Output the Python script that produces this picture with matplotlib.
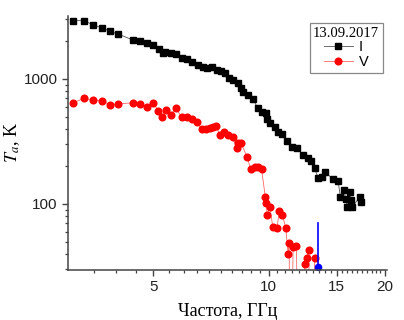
import numpy as np
import matplotlib
matplotlib.use('Agg')
import matplotlib.pyplot as plt
from matplotlib.ticker import FixedLocator, NullFormatter, FixedFormatter

# Данные: частота (ГГц) и яркостная температура (К)
freq_I = [3.10, 3.30, 3.48, 3.68, 3.86, 4.06, 4.43, 4.62, 4.81, 5.00,
          5.19, 5.30, 5.37, 5.56, 5.73, 5.94, 6.11, 6.30, 6.52, 6.73,
          6.89, 7.10, 7.32, 7.50, 7.69, 7.87, 8.08, 8.29, 8.44, 8.54,
          8.84, 9.10, 9.36, 9.57, 9.82, 9.88, 10.06, 10.36, 10.57, 10.85,
          11.17, 11.51, 11.84, 12.28, 12.65, 12.91, 13.17, 13.43, 13.71, 14.04,
          14.66, 15.14, 15.36, 15.70, 15.85, 16.00, 16.23, 16.40, 16.49, 17.23,
          17.41]
T_I = [2930, 2930, 2720, 2560, 2410, 2280, 2050, 2020, 1950, 1860,
       1730, 1605, 1650, 1605, 1577, 1480, 1438, 1375, 1294, 1254,
       1218, 1241, 1180, 1152, 1123, 1013, 982, 924, 851, 791,
       745, 688, 581, 547, 532, 476, 442, 415, 379, 361,
       319, 287, 279, 247, 232, 222, 193, 161, 165, 181,
       157, 153, 113, 129, 109, 94, 125, 108, 94, 114,
       104]

freq_V = [3.10, 3.30, 3.48, 3.68, 3.86, 4.06, 4.43, 4.62, 4.81, 5.00,
          5.16, 5.26, 5.40, 5.55, 5.73, 5.93, 6.11, 6.30, 6.49, 6.69,
          6.85, 7.03, 7.17, 7.28, 7.46, 7.64, 7.84, 8.05, 8.24, 8.32,
          8.44, 8.78, 8.96, 9.20, 9.38, 9.57, 9.79, 9.82, 9.90, 10.06,
          10.24, 10.49, 10.65, 10.84, 11.07, 11.22, 11.29, 11.40, 11.56, 11.80,
          11.95, 12.15, 12.40, 12.53, 12.70, 12.95, 13.15]
T_V = [645, 701, 679, 670, 619, 631, 645, 628, 600, 639,
       557, 499, 565, 515, 583, 494, 499, 476, 455, 396,
       396, 403, 411, 421, 356, 375, 356, 342, 279, 306,
       309, 239, 190, 199, 199, 190, 114, 102, 82, 95,
       65, 64, 87, 82, 64, 40, 49, 1, 45, 46,
       1, 1, 33, 37, 43, 1, 37]

freq_mark = [13.45, 13.45]
T_mark = [31.3, 70]

plt.rcParams['mathtext.fontset'] = 'stix'

fig = plt.figure(figsize=(4.04, 3.2), dpi=100)
ax = fig.add_axes([68 / 404, 50 / 320, 319 / 404, 254 / 320])

ax.plot(freq_I, T_I, color='#555555', lw=0.6, marker='s', ms=4.2,
        mfc='black', mec='black', label='I')
ax.plot(freq_V, T_V, color='#ff6666', lw=0.6, marker='o', ms=4.8,
        mfc='#ff0000', mec='#ff0000', label='V')
ax.plot(freq_mark, T_mark, color='#0000ff', lw=1.2)
ax.plot(freq_mark[:1], T_mark[:1], 'o', color='#0000ff', ms=4.5)

ax.set_xscale('log')
ax.set_yscale('log')
ax.set_xlim(3.0, 20.3)
ax.set_ylim(29.6, 3190)

# оси
xmaj = [5, 10, 15, 20]
ax.xaxis.set_major_locator(FixedLocator(xmaj))
ax.xaxis.set_major_formatter(FixedFormatter([str(v) for v in xmaj]))
xmin = [v for v in np.arange(3.5, 20.0, 0.5) if v not in xmaj]
ax.xaxis.set_minor_locator(FixedLocator(xmin))
ax.xaxis.set_minor_formatter(NullFormatter())
ax.yaxis.set_major_locator(FixedLocator([100, 1000]))
ax.yaxis.set_major_formatter(FixedFormatter(['100', '1000']))
ax.yaxis.set_minor_formatter(NullFormatter())

for s in ['top', 'right']:
    ax.spines[s].set_visible(False)
for s in ['left', 'bottom']:
    ax.spines[s].set_color('#444444')
    ax.spines[s].set_linewidth(1.1)
ax.tick_params(which='major', direction='out', length=4, width=1.0,
               color='#444444', labelsize=11)
ax.tick_params(which='minor', direction='out', length=2.5, width=0.9,
               color='#444444')
for lab in ax.get_xticklabels() + ax.get_yticklabels():
    lab.set_family('Liberation Sans')
    lab.set_color('#222222')

ax.set_xlabel('Частота, ГГц', family='Liberation Serif', fontsize=13,
              labelpad=6)
ax.set_ylabel('$T_a$, K', family='Liberation Serif', fontsize=13,
              labelpad=1)

leg = ax.legend(title='13.09.2017', loc='upper right',
                bbox_to_anchor=(0.987, 0.972), borderaxespad=0,
                fancybox=False, edgecolor='#888888', framealpha=1,
                handlelength=2.0, handletextpad=0.4, borderpad=0.25,
                labelspacing=0.05,
                prop={'family': 'Liberation Sans', 'size': 10.5})
leg.get_title().set_family('Liberation Serif')
leg.get_title().set_fontsize(10.5)
leg.get_frame().set_linewidth(0.9)

fig.savefig('out.png', dpi=100)
